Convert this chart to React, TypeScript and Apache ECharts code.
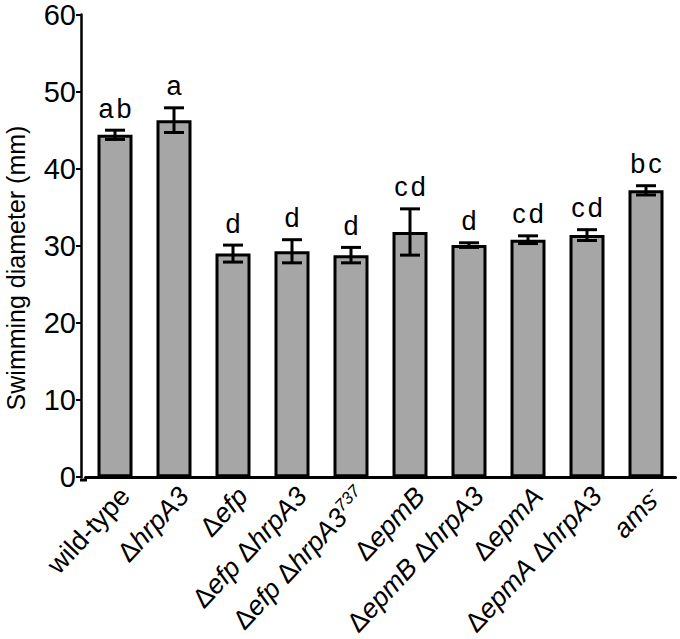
import React, { useEffect, useRef } from "react";
import * as echarts from "echarts";

const categories = [
  "wild-type",
  "ΔhrpA3",
  "Δefp",
  "Δefp ΔhrpA3",
  "Δefp ΔhrpA3⁷³⁷",
  "ΔepmB",
  "ΔepmB ΔhrpA3",
  "ΔepmA",
  "ΔepmA ΔhrpA3",
  "ams⁻",
];
const means = [44.4, 46.3, 29.0, 29.3, 28.8, 31.8, 30.1, 30.8, 31.4, 37.2];
const errors = [0.6, 1.6, 1.1, 1.5, 1.0, 3.0, 0.3, 0.5, 0.7, 0.6];
const letters = ["ab", "a", "d", "d", "d", "cd", "d", "cd", "cd", "bc"];
const yTicks = [0, 10, 20, 30, 40, 50, 60];
const yTitle = "Swimming diameter (mm)";

const FONT = "Liberation Sans, Arial, sans-serif";
const SUP_MAP: Record<string, string> = {
  "⁰": "0", "¹": "1", "²": "2", "³": "3", "⁴": "4", "⁵": "5",
  "⁶": "6", "⁷": "7", "⁸": "8", "⁹": "9", "⁻": "-",
};

function toRich(name: string): string {
  if (name === "wild-type") return `{n|${name}}`;
  let out = "";
  const re = /(Δ)|([⁰¹²³⁴⁵⁶⁷⁸⁹⁻]+)|( )|([^Δ⁰¹²³⁴⁵⁶⁷⁸⁹⁻ ]+)/g;
  let m: RegExpExecArray | null;
  while ((m = re.exec(name)) !== null) {
    if (m[1]) out += `{n|Δ}`;
    else if (m[2]) out += `{s|${m[2].split("").map((c) => SUP_MAP[c] || c).join("")}}`;
    else if (m[3]) out += `{n| }`;
    else if (m[4]) out += `{i|${m[4]}}`;
  }
  return out;
}

export default function App() {
  const ref = useRef<HTMLDivElement>(null);
  useEffect(() => {
    if (!ref.current) return;
    const chart = echarts.init(ref.current, undefined, { renderer: "svg" });
    const labelSize = 27;
    chart.setOption({
      animation: false,
      backgroundColor: "#ffffff",
      grid: { left: 85.5, right: 4.5, top: 14, bottom: 159, containLabel: false },
      xAxis: {
        type: "category",
        data: categories,
        boundaryGap: true,
        axisLine: { show: true, lineStyle: { color: "#000", width: 3 } },
        axisTick: { show: false },
        axisLabel: {
          interval: 0,
          rotate: 47,
          margin: 5,
          verticalAlign: "top",
          formatter: (v: string) => toRich(v),
          rich: {
            n: { fontFamily: FONT, fontSize: labelSize, color: "#000" },
            i: { fontFamily: FONT, fontSize: labelSize, fontStyle: "italic", color: "#000" },
            s: { fontFamily: FONT, fontSize: 17, fontStyle: "italic", color: "#000", verticalAlign: "top", padding: [0, 0, 12, 0] },
          },
        },
      },
      yAxis: {
        type: "value",
        min: yTicks[0],
        max: yTicks[yTicks.length - 1],
        interval: yTicks[1] - yTicks[0],
        offset: 4.5,
        splitLine: { show: false },
        axisLine: { show: true, lineStyle: { color: "#000", width: 2.5 } },
        axisTick: { show: true, length: 5, lineStyle: { color: "#000", width: 2 } },
        axisLabel: { fontFamily: FONT, fontSize: 29, color: "#000", margin: 5 },
      },
      graphic: [
        {
          type: "text",
          x: 16,
          y: 268,
          rotation: Math.PI / 2,
          style: {
            text: yTitle,
            fontFamily: FONT,
            fontSize: 25,
            fill: "#000",
            textAlign: "center",
            textVerticalAlign: "middle",
          },
        },
        {
          type: "line",
          shape: { x1: 80, y1: 480, x2: 87, y2: 480 },
          style: { stroke: "#000", lineWidth: 3 },
        },
      ],
      series: [
        {
          type: "bar",
          data: means,
          barWidth: 35,
          itemStyle: { color: "#a6a6a6", borderColor: "#000", borderWidth: 3 },
          z: 2,
        },
        {
          type: "custom",
          z: 5,
          data: categories.map((_, i) => [i, means[i], errors[i]]),
          renderItem: (params: any, api: any) => {
            const idx = params.dataIndex;
            const m = api.value(1);
            const e = api.value(2);
            const top = api.coord([idx, m + e]);
            const bot = api.coord([idx, m - e]);
            const x = top[0];
            const hw = 10;
            const st = { stroke: "#000", lineWidth: 3 };
            const txt = letters[idx].split("").map((c) => `{c|${c}}`).join("");
            return {
              type: "group",
              children: [
                { type: "line", shape: { x1: x, y1: top[1], x2: x, y2: bot[1] }, style: st },
                { type: "line", shape: { x1: x - hw, y1: top[1], x2: x + hw, y2: top[1] }, style: st },
                { type: "line", shape: { x1: x - hw, y1: bot[1], x2: x + hw, y2: bot[1] }, style: st },
                {
                  type: "text",
                  x: x,
                  y: top[1] - 8,
                  style: {
                    text: txt,
                    rich: { c: { fontFamily: FONT, fontSize: 27, color: "#000", padding: [0, 1.5, 0, 1.5] } },
                    fill: "#000",
                    textAlign: "center",
                    textVerticalAlign: "bottom",
                  },
                },
              ],
            };
          },
        },
      ],
    });
    return () => chart.dispose();
  }, []);
  return (
    <div
      ref={ref}
      style={{ position: "fixed", left: 0, top: 0, width: 680, height: 639, background: "#fff" }}
    />
  );
}
